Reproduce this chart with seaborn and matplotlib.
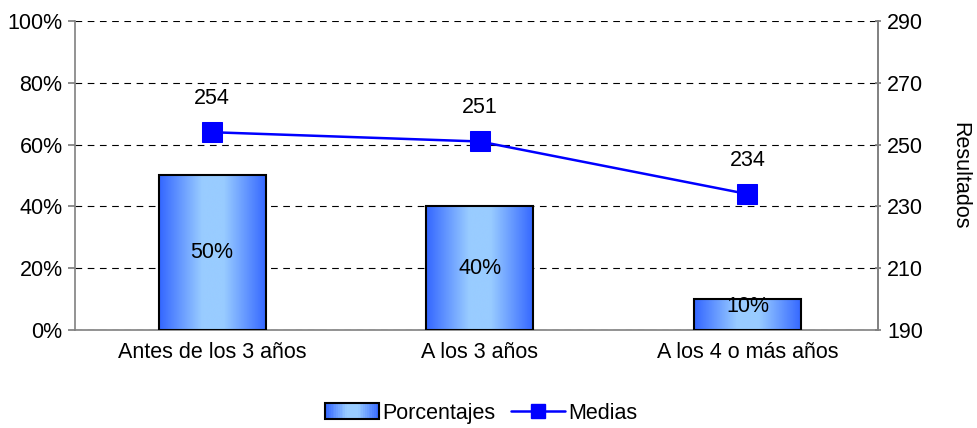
import numpy as np
import pandas as pd
import matplotlib
matplotlib.use("Agg")
import matplotlib.pyplot as plt
import seaborn as sns
from matplotlib.colors import LinearSegmentedColormap
from matplotlib.legend_handler import HandlerBase
from matplotlib.patches import Rectangle
from matplotlib.lines import Line2D

categories = ["Antes de los 3 años", "A los 3 años", "A los 4 o más años"]
porcentajes = [50, 40, 10]
medias = [254, 251, 234]

sns.set_theme(style="white")
plt.rcParams['font.family'] = ['Liberation Sans', 'DejaVu Sans']
plt.rcParams['text.color'] = 'black'
plt.rcParams['xtick.labelcolor'] = 'black'
plt.rcParams['ytick.labelcolor'] = 'black'
plt.rcParams['axes.labelcolor'] = 'black'
FS = 15.5

fig = plt.figure(figsize=(9.78, 4.28), dpi=100)
ax = fig.add_axes([0.0767, 0.229, 0.8211, 0.722])

df = pd.DataFrame({"cat": categories, "pct": porcentajes})
sns.barplot(data=df, x="cat", y="pct", ax=ax, width=0.4, color="#6699ff",
            edgecolor="black", linewidth=1.5, zorder=3)

cmap = LinearSegmentedColormap.from_list(
    "g", ["#3366ff", "#6699ff", "#99ccff", "#99ccff", "#6699ff", "#3366ff"])
grad = np.linspace(0, 1, 256).reshape(1, -1)
for p in ax.patches:
    x0, y0 = p.get_x(), p.get_y()
    w, h = p.get_width(), p.get_height()
    im = ax.imshow(grad, cmap=cmap, aspect="auto", extent=[x0, x0 + w, y0, y0 + h],
                   zorder=3.5, interpolation="bicubic")
    im.set_clip_path(p)
    p.set_facecolor("none")
    p.set_zorder(4)
    ax.text(x0 + w / 2, y0 + max(h / 2, 7.5), f"{int(round(h))}%", ha="center",
            va="center", fontsize=FS, color="black", zorder=6)

XL = (-0.512, 2.488)
ax.set_xlim(*XL)
ax.set_ylim(0, 100)
ax.set_yticks(range(0, 101, 20))
ax.set_yticklabels([f"{v}%" for v in range(0, 101, 20)], fontsize=FS)
ax.tick_params(axis="x", labelsize=FS, length=0, pad=9, labelcolor="black")
ax.tick_params(axis="y", length=5, direction="out", color="#808080", left=True, pad=4,
               labelcolor="black")
ax.set_xlabel("")
ax.set_ylabel("")
ax.grid(axis="y", color="black", linestyle=(0, (6, 5)), linewidth=0.8, zorder=0)
ax.spines["top"].set_visible(False)
for s in ["left", "bottom", "right"]:
    ax.spines[s].set_color("#808080")
    ax.spines[s].set_linewidth(1.2)

ax2 = ax.twinx()
ax2.set_ylim(190, 290)
ax2.set_yticks(range(190, 291, 20))
ax2.tick_params(axis="y", labelsize=FS, length=5, direction="inout", color="#808080", pad=4,
                labelcolor="black")
ax2.spines["top"].set_visible(False)
ax2.spines["left"].set_visible(False)
ax2.spines["bottom"].set_visible(False)
ax2.spines["right"].set_color("#808080")
ax2.spines["right"].set_linewidth(1.2)
sns.lineplot(x=list(range(len(categories))), y=medias, ax=ax2, color="#0000ff",
             linewidth=1.8, marker="s", markersize=14, markeredgecolor="#0000ff")
for i, v in enumerate(medias):
    ax2.text(i, v + 11, str(v), ha="center", va="center", fontsize=FS, color="black")
ax2.set_ylabel("Resultados", fontsize=FS, rotation=270, labelpad=34, color="black")
ax2.set_xlim(*XL)


class GradHandler(HandlerBase):
    def create_artists(self, legend, orig_handle, xdescent, ydescent, width, height,
                       fontsize, trans):
        arts = []
        n = 30
        for k in range(n):
            c = cmap((k + 0.5) / n)
            r = Rectangle((-xdescent + width * k / n, -ydescent), width / n + 0.2, height,
                          facecolor=c, edgecolor="none", transform=trans)
            arts.append(r)
        arts.append(Rectangle((-xdescent, -ydescent), width, height, facecolor="none",
                              edgecolor="black", linewidth=1.5, transform=trans))
        return arts


bar_handle = Rectangle((0, 0), 1, 1)
line_handle = Line2D([], [], color="#0000ff", linewidth=1.8, marker="s", markersize=10)
fig.legend([bar_handle, line_handle], ["Porcentajes", "Medias"],
           handler_map={Rectangle: GradHandler()},
           loc="center", bbox_to_anchor=(0.492, 0.035), ncol=2, frameon=False,
           fontsize=FS, handlelength=2.5, handletextpad=0.15, columnspacing=0.7)

fig.savefig("out.png", dpi=100)
